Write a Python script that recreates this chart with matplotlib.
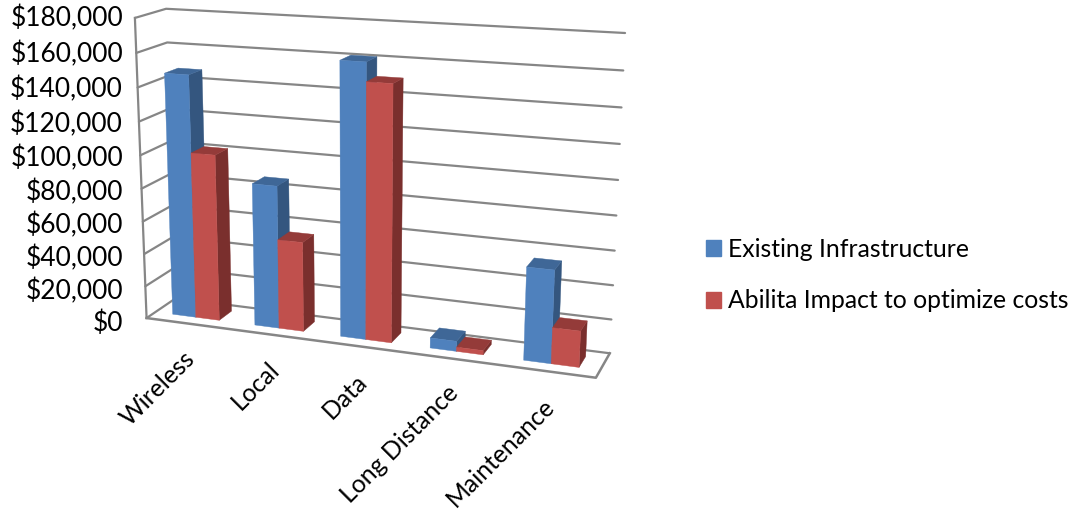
import numpy as np
import matplotlib
matplotlib.use('Agg')
from matplotlib import pyplot as plt
from matplotlib.patches import Polygon, Patch

categories = ['Wireless', 'Local', 'Data', 'Long Distance', 'Maintenance']
existing = [147000, 86000, 161000, 6000, 54000]
abilita = [101000, 54000, 150000, 2500, 21000]
series_names = ['Existing Infrastructure', 'Abilita Impact to optimize costs']
tick_values = list(range(0, 200000, 20000))
ymax = 180000.0

# box corners of the 3d chart: (across, up, depth) -> picture pixel
corners = [((0, 0, 0), (147.3, 318.3)), ((0, 1, 0), (134.3, 17.7)),
           ((0, 1, 1), (166.7, 9.0)), ((1, 1, 1), (625.0, 33.0)),
           ((1, 0, 1), (610.0, 353.3)), ((1, 0, 0), (595.7, 377.7)),
           ((0, 0, 1), (175.0, 298.0))]


def fit_camera(pts):
    A, b = [], []
    for (u, v, w), (x, y) in pts:
        A.append([u, v, w, 1, 0, 0, 0, 0, -x*u, -x*v, -x*w])
        A.append([0, 0, 0, 0, u, v, w, 1, -y*u, -y*v, -y*w])
        b += [x, y]
    p = np.linalg.lstsq(np.array(A, float), np.array(b, float), rcond=None)[0]
    return np.append(p, 1).reshape(3, 4)


cam = fit_camera(corners)


def project(u, val, w):
    h = cam @ np.array([u, val/ymax, w, 1.0])
    return h[0]/h[2], h[1]/h[2]


def draw_bar(ax, u0, u1, val, w0, w1, front, side, top):
    faces = [
        ([(u1, 0, w0), (u1, 0, w1), (u1, val, w1), (u1, val, w0)], side),
        ([(u0, val, w0), (u1, val, w0), (u1, val, w1), (u0, val, w1)], top),
        ([(u0, 0, w0), (u1, 0, w0), (u1, val, w0), (u0, val, w0)], front),
    ]
    for pts, col in faces:
        ax.add_patch(Polygon([project(*p) for p in pts], closed=True, fc=col, ec=col, lw=0.3, zorder=3))


plt.rcParams['font.family'] = ['Lato', 'DejaVu Sans']
fig = plt.figure(figsize=(10.73, 5.12), dpi=100)
ax = fig.add_axes([0, 0, 1, 1])
ax.set_xlim(0, 1073)
ax.set_ylim(512, 0)
ax.axis('off')

grid_col = '#868686'
for t in tick_values:
    xy = [project(0, t, 0), project(0, t, 1), project(1, t, 1)]
    ax.plot(*zip(*xy), color=grid_col, lw=1.6, solid_capstyle='round', zorder=2)
    # labels sit a little lower towards the bottom of the axis
    ax.text(123, project(0, t, 0)[1] + 0.5 + 5*(1 - t/ymax), '$' + format(t, ','), ha='right', va='center',
            fontsize=19, color='black')
ax.plot(*zip(project(0, 0, 0), project(0, ymax, 0)), color=grid_col, lw=1.6, zorder=2)
floor = [project(0, 0, 0), project(1, 0, 0), project(1, 0, 1)]
ax.plot(*zip(*floor), color=grid_col, lw=1.8, zorder=2)

n = len(categories)
bar_w = (1.0/n)/3.5
blue = ('#4F81BD', '#34567F', '#3F6797')
red = ('#C0504D', '#7A2F2D', '#943B39')
for i, name in enumerate(categories):
    left = i/n + 0.75*bar_w
    draw_bar(ax, left, left + bar_w, existing[i], 0.3, 0.75, *blue)
    draw_bar(ax, left + bar_w, left + 2*bar_w, abilita[i], 0.3, 0.75, *red)
    x, y = project((i + 0.5)/n, 0, 0)
    ax.text(x - 4, y + 23, name, rotation=45, rotation_mode='anchor', ha='right', va='top',
            fontsize=17.8, color='black')

handles = [Patch(fc=blue[0], ec=blue[0]), Patch(fc=red[0], ec=red[0])]
ax.legend(handles, series_names, loc='upper left', bbox_to_anchor=(706, 238),
          bbox_transform=ax.transData, frameon=False, fontsize=17.8, handlelength=0.61, handleheight=0.61,
          handletextpad=0.27, labelspacing=1.15, borderpad=0, borderaxespad=0)

fig.savefig('out.png', dpi=100)
